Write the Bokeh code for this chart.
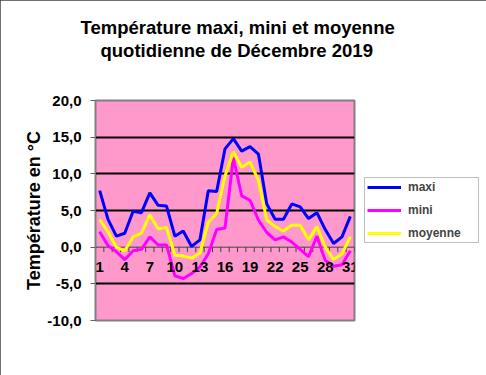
from bokeh.plotting import figure
from bokeh.models import Range1d, FixedTicker, Legend, LegendItem, Title
from bokeh.core.properties import value
from bokeh.embed import file_html
from bokeh.resources import INLINE

# ---- data ----
days = list(range(1, 32))
maxi = [7.7, 3.8, 1.5, 1.9, 4.9, 4.7, 7.4, 5.7, 5.6, 1.5, 2.2, 0.1, 1.0, 7.7, 7.6,
        13.4, 14.8, 13.1, 13.7, 12.7, 5.9, 3.8, 3.8, 5.9, 5.5, 3.9, 4.7, 2.4, 0.5, 1.4, 4.2]
mini = [2.1, 0.2, -0.6, -1.7, -0.5, -0.3, 1.4, 0.3, 0.3, -3.9, -4.3, -3.6, -2.7, -0.9, 2.4,
        2.6, 12.2, 7.0, 6.4, 3.7, 2.0, 1.0, 1.4, 0.7, -0.3, -1.3, 1.5, -1.8, -2.6, -2.4, -0.5]
moyenne = [3.8, 2.1, 0.0, -0.5, 1.4, 1.9, 4.4, 2.5, 2.7, -1.1, -1.2, -1.5, -0.8, 3.4, 4.6,
           9.7, 13.0, 10.9, 11.6, 9.1, 3.7, 2.8, 2.2, 3.0, 3.0, 1.0, 2.8, 0.0, -1.7, -0.9, 1.4]
series_names = ["maxi", "mini", "moyenne"]
x_label_days = [1, 4, 7, 10, 13, 16, 19, 22, 25, 28, 31]
x_labels = [str(d) for d in x_label_days]
y_ticks = [-10, -5, 0, 5, 10, 15, 20]
y_tick_labels = ["-10,0", "-5,0", "0,0", "5,0", "10,0", "15,0", "20,0"]
grid_values = [-5, 5, 10, 15]
title_lines = ["Température maxi, mini et moyenne", "quotidienne de Décembre 2019"]
y_title = "Température en °C"

# ---- styles ----
FONT = "Liberation Sans"
COLORS = ["#0000FF", "#FF00FF", "#FFFF00"]
y_min, y_max = -10, 20
x_min, x_max = 0.5, 31.5
axis_cross = 0
FRAME_W, FRAME_H = 259, 220
tick_len = 5 * (y_max - y_min) / FRAME_H

p = figure(frame_width=FRAME_W, frame_height=FRAME_H,
           x_range=Range1d(x_min, x_max), y_range=Range1d(y_min, y_max),
           output_backend="svg", toolbar_location=None, title=None,
           x_axis_location=None,
           min_border_left=95, min_border_right=132, min_border_top=100, min_border_bottom=55,
           background_fill_color="#FF99CC", border_fill_color="white",
           outline_line_color="#808080", outline_line_width=2,
           styles={"outline": "1px solid #404040", "outline-offset": "-1px"})

# grid
p.xgrid.grid_line_color = None
p.ygrid.ticker = FixedTicker(ticks=grid_values)
p.ygrid.grid_line_color = "black"
p.ygrid.grid_line_width = 2

# y axis
yax = p.yaxis[0]
yax.ticker = FixedTicker(ticks=y_ticks)
yax.major_label_overrides = dict(zip(y_ticks, y_tick_labels))
yax.major_label_text_font = FONT
yax.major_label_text_font_size = "15px"
yax.major_label_text_font_style = "bold"
yax.major_label_text_color = "black"
yax.major_label_standoff = 9
yax.major_tick_out = 5
yax.major_tick_in = 0
yax.minor_tick_line_color = None
yax.axis_line_color = "#808080"
yax.major_tick_line_color = "#606060"
yax.axis_label = y_title
yax.axis_label_text_font = FONT
yax.axis_label_text_font_size = "18px"
yax.axis_label_text_font_style = "bold"
yax.axis_label_text_color = "black"
yax.axis_label_standoff = 0

# category axis crossing at zero (drawn with glyphs)
bounds = [d - 0.5 for d in days] + [days[-1] + 0.5]
p.segment(x0=[x_min], y0=[axis_cross], x1=[x_max], y1=[axis_cross],
          line_color="#404040", line_width=1)
p.segment(x0=bounds, y0=[axis_cross] * len(bounds), x1=bounds,
          y1=[axis_cross - tick_len] * len(bounds), line_color="#404040", line_width=1)

# series
renderers = []
for vals, col in zip([maxi, mini, moyenne], COLORS):
    r = p.line(days, vals, line_color=col, line_width=3)
    renderers.append(r)

# day labels
p.text(x=x_label_days, y=[axis_cross] * len(x_label_days), text=x_labels,
       text_align="center", text_baseline="alphabetic", y_offset=20,
       text_font=value(FONT), text_font_size="15px", text_font_style="bold",
       text_color="black")

# legend
legend = Legend(items=[LegendItem(label=n, renderers=[r]) for n, r in zip(series_names, renderers)],
                location="left", margin=10, padding=2, spacing=9,
                glyph_width=34, glyph_height=12, label_height=12, label_width=68,
                label_standoff=7, label_text_font=FONT, label_text_font_size="12px",
                label_text_font_style="bold", border_line_color="#808080",
                border_line_width=1, background_fill_color="white", background_fill_alpha=1)
p.add_layout(legend, "right")

# titles: spacer nearest the frame, then line 2, then line 1
spacer = Title(text=" ", text_font_size="10px", standoff=27)
t2 = Title(text=title_lines[1], align="left", offset=5, standoff=0,
           text_font=FONT, text_font_size="18.5px", text_font_style="bold", text_color="black")
t1 = Title(text=title_lines[0], align="left", offset=-15, standoff=0,
           text_font=FONT, text_font_size="18.5px", text_font_style="bold", text_color="black")
p.add_layout(spacer, "above")
p.add_layout(t2, "above")
p.add_layout(t1, "above")

open("out.html", "w").write(file_html(p, INLINE))
